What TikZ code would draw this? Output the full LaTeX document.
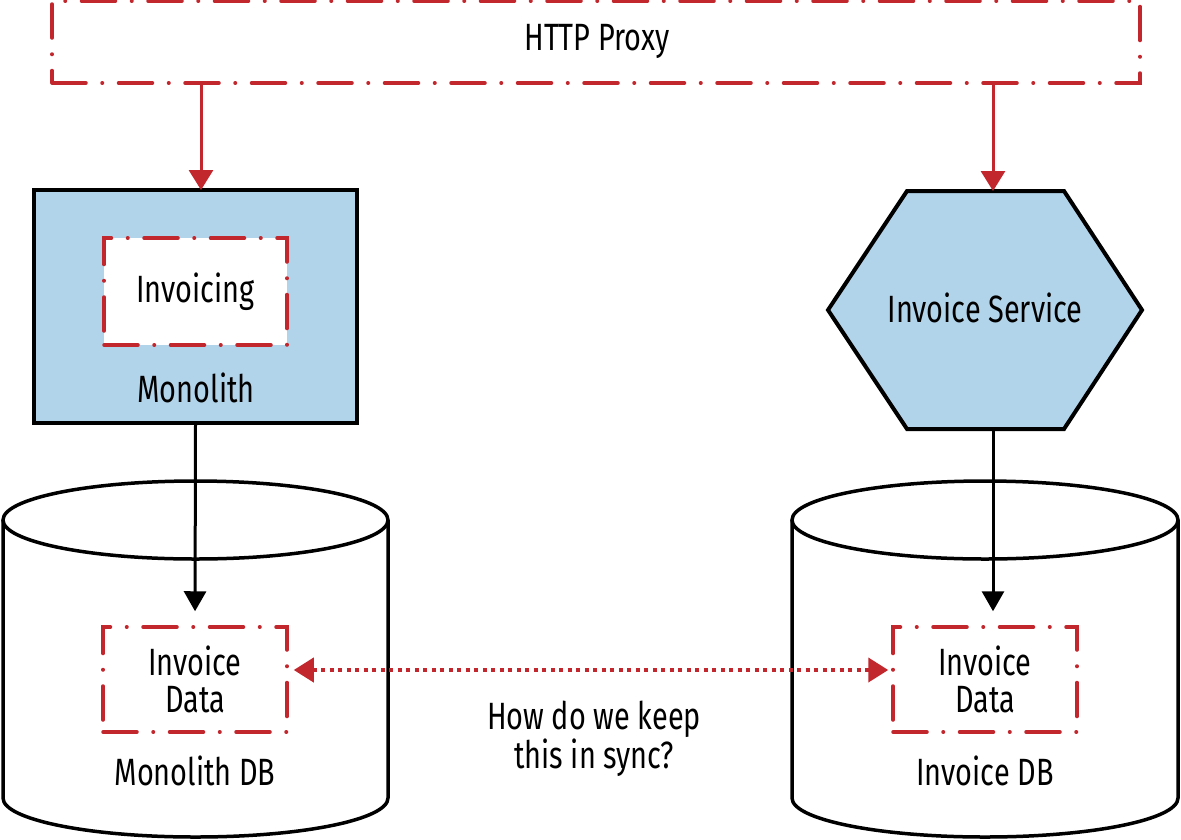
\documentclass[tikz,border=0pt]{standalone}
\usepackage{fontspec}
\setmainfont{Fira Sans}[FakeStretch=0.76]
\usetikzlibrary{arrows.meta,calc}
\definecolor{oreillyred}{HTML}{C1272D}
\definecolor{svcblue}{HTML}{B2D4EA}
\tikzset{
  every node/.style={font=\fontsize{38}{37.5}\selectfont, inner sep=0pt},
  dashdotbox/.style={draw=oreillyred, line width=3.5pt, line cap=round,
    dash pattern=on 34pt off 16pt on 0.5pt off 16pt, rectangle},
  bluebox/.style={draw=black, line width=4pt, fill=svcblue, rectangle},
  redarrow/.style={draw=oreillyred, line width=3pt, -{Triangle[length=20pt,width=24pt]}},
  blackarrow/.style={draw=black, line width=3pt, -{Triangle[length=20pt,width=22pt]}},
  syncarrow/.style={draw=oreillyred, line width=4pt, dash pattern=on 4pt off 4.5pt,
    {Triangle[length=20pt,width=24pt]}-{Triangle[length=20pt,width=24pt]}},
  dbline/.style={draw=black, line width=3.5pt, fill=white},
}
\begin{document}
\begin{tikzpicture}[x=1pt,y=-1pt]
\useasboundingbox (0,0) rectangle (1181,839);
% proxy
\node[dashdotbox, minimum width=1088pt, minimum height=82pt] (proxy) at (596,42) {};
\node (proxytxt) at (597,41) {HTTP Proxy};
% monolith
\node[bluebox, minimum width=323pt, minimum height=233pt] (mono) at (195.5,306.5) {};
\node[dashdotbox, fill=white, minimum width=183pt, minimum height=107pt] (invoicing) at (195.5,291.5) {Invoicing};
\node (monotxt) at (196,388) {Monolith};
\coordinate (monoTop) at (201,190);
% invoice service hexagon
\draw[draw=black, line width=4pt, fill=svcblue, line join=miter]
  (907,191) -- (1064,191) -- (1142,310) -- (1064,429) -- (907,429) -- (828,310) -- cycle;
\coordinate (svcTop) at (993,191);
\coordinate (svcBot) at (993,429);
\node (svc) at (985,308) {Invoice Service};
% databases
\draw[dbline] (3,520) -- (3,798) arc (180:0:192.5 and 39) -- (388,520);
\draw[dbline] (195.5,520) ellipse (192.5 and 39);
\draw[dbline] (792,520) -- (792,798) arc (180:0:193 and 39) -- (1178,520);
\draw[dbline] (985,520) ellipse (193 and 39);
\node[dashdotbox, minimum width=184pt, minimum height=105pt, align=center] (idL) at (195,679.5) {Invoice\\Data};
\node[dashdotbox, minimum width=184pt, minimum height=105pt, align=center] (idR) at (985,679.5) {Invoice\\Data};
\node (dbL) at (195,771) {Monolith DB};
\node (dbR) at (985,771) {Invoice DB};
\node[align=center] (q) at (594,739) {How do we keep\\this in sync?};
% connectors
\draw[redarrow] (proxy.south -| monoTop) -- (monoTop);
\draw[redarrow] (proxy.south -| svcTop) -- (svcTop);
\draw[blackarrow, shorten >=14pt] (mono.south) -- (idL.north);
\draw[blackarrow, shorten >=14pt] (svcBot) -- (svcBot |- idR.north);
\draw[syncarrow, shorten <=5pt, shorten >=3pt] ([yshift=9.5pt]idL.east) -- ([yshift=9.5pt]idR.west);
\end{tikzpicture}
\end{document}
